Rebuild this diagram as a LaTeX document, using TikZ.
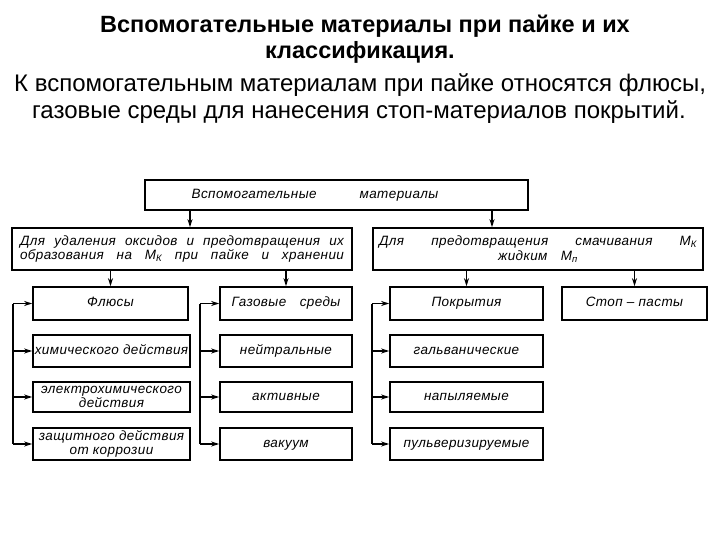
\documentclass[tikz,border=0pt]{standalone}
\usepackage{fontspec}
\setmainfont{Liberation Sans}
\newfontfamily\diagfont[LetterSpace=3]{Liberation Sans}
\usetikzlibrary{arrows.meta}
\tikzset{
  box/.style={draw, line width=1.6pt, inner sep=1pt, font=\diagfont\itshape\fontsize{13.5}{13.5}\selectfont, align=center},
  one/.style={text height=9.5pt, text depth=3pt},
  arr/.style={line width=1.4pt, -{Stealth[length=8pt,width=5pt]}},
  ln/.style={line width=1.4pt},
  ttlb/.style={font=\bfseries\fontsize{23.5}{26}\selectfont, inner sep=0pt, anchor=base},
  ttl/.style={font=\fontsize{24}{27}\selectfont, inner sep=0pt, anchor=base},
}
\newcommand{\MK}{М\textsubscript{К}}
\newcommand{\MP}{М\textsubscript{п}}
\begin{document}
\begin{tikzpicture}[x=1pt,y=-1pt]
\path[use as bounding box, fill=white] (0,0) rectangle (720,540);
% title
\node[ttlb] (t1) at (365,33) {Вспомогательные материалы при пайке и их};
\node[ttlb] (t2) at (360,59) {классификация.};
\node[ttl] (t3) at (360,92) {К вспомогательным материалам при пайке относятся флюсы,};
\node[ttl] (t4) at (359,119) {газовые среды для нанесения стоп-материалов покрытий.};
% boxes
\node[box, one, minimum width=383pt, minimum height=30pt] (top) at (336.5,195) {Вспомогательные\hspace{43pt}материалы\hspace{43pt}};
\node[box, minimum width=340pt, minimum height=42pt] (midL) at (182,249)
  {\makebox[324pt][s]{Для удаления оксидов и предотвращения их}\\[1pt]
   \makebox[324pt][s]{образования на \MK{} при пайке и хранении}};
\node[box, minimum width=330pt, minimum height=42pt] (midR) at (538,249)
  {\makebox[318pt][s]{Для предотвращения смачивания \MK}\\[1pt]
   жидким\hspace{1em}\MP};
% row 1
\node[box, one, minimum width=155pt, minimum height=33pt] (flux) at (110.5,303.5) {Флюсы};
\node[box, one, minimum width=132pt, minimum height=33pt] (gas) at (286,303.5) {Газовые\hspace{1em}среды};
\node[box, one, minimum width=153pt, minimum height=33pt] (pokr) at (466.5,303.5) {Покрытия};
\node[box, one, minimum width=145pt, minimum height=33pt] (stop) at (634.5,303.5) {Стоп – пасты};
% left column
\node[box, one, minimum width=157pt, minimum height=32pt] (f1) at (111.5,351) {химического действия};
\node[box, minimum width=157pt, minimum height=30pt] (f2) at (111.5,397) {электрохимического\\действия};
\node[box, minimum width=157pt, minimum height=32pt] (f3) at (111.5,444) {защитного действия\\от коррозии};
% gas column
\node[box, one, minimum width=132pt, minimum height=32pt] (g1) at (286,351) {нейтральные};
\node[box, one, minimum width=132pt, minimum height=30pt] (g2) at (286,397) {активные};
\node[box, one, minimum width=132pt, minimum height=32pt] (g3) at (286,444) {вакуум};
% coatings column
\node[box, one, minimum width=153pt, minimum height=32pt] (p1) at (466.5,351) {гальванические};
\node[box, one, minimum width=153pt, minimum height=30pt] (p2) at (466.5,397) {напыляемые};
\node[box, one, minimum width=153pt, minimum height=32pt] (p3) at (466.5,444) {пульверизируемые};
% helper coordinates
\coordinate (a1) at (190,0);
\coordinate (a2) at (492,0);
\coordinate (bl) at (13,0);
\coordinate (bg) at (200,0);
\coordinate (bp) at (372,0);
% arrows from top
\draw[arr] (top.south -| a1) -- (midL.north -| a1);
\draw[arr] (top.south -| a2) -- (midR.north -| a2);
\draw[arr] (midL.south -| flux.north) -- (flux.north);
\draw[arr] (midL.south -| gas.north) -- (gas.north);
\draw[arr] (midR.south -| pokr.north) -- (pokr.north);
\draw[arr] (midR.south -| stop.north) -- (stop.north);
% brackets
\draw[ln] (bl |- flux.west) -- (bl |- f3.west);
\foreach \n in {flux,f1,f2,f3} \draw[arr] (bl |- \n.west) -- (\n.west);
\draw[ln] (bg |- gas.west) -- (bg |- g3.west);
\foreach \n in {gas,g1,g2,g3} \draw[arr] (bg |- \n.west) -- (\n.west);
\draw[ln] (bp |- pokr.west) -- (bp |- p3.west);
\foreach \n in {pokr,p1,p2,p3} \draw[arr] (bp |- \n.west) -- (\n.west);
\end{tikzpicture}
\end{document}
